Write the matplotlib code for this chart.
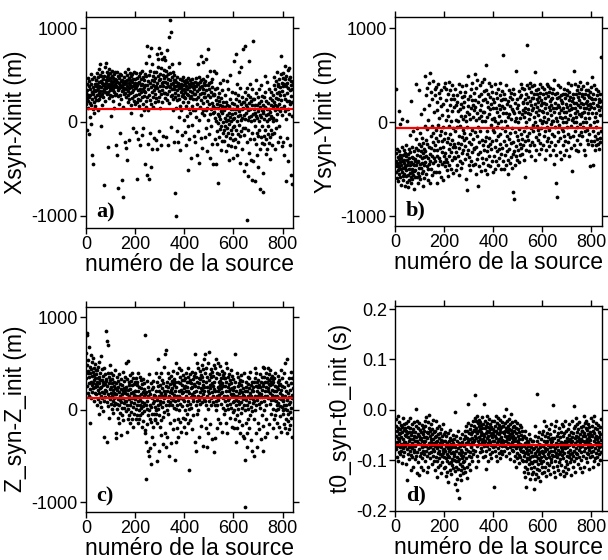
import matplotlib
matplotlib.use("Agg")
import matplotlib.pyplot as plt
import numpy as np

plt.rcParams['font.family'] = ['Liberation Sans', 'DejaVu Sans']
plt.rcParams['axes.unicode_minus'] = False

# source numbers 1..840
source_num = np.arange(1, 841)

# Xsyn - Xinit (m), one line per block of 20 sources
dx = [
    312, 187, 405, 256, -87, 341, 223, 468, 145, 290, 378, -132, 264, 431, 198, 52, 355, 287, 512, 176,
    -24, 402, 318, 241, -352, 459, 133, 296, 376, -448, 215, 337, 484, 92, 263, 399, 171, 328, 446, 239,
    386, 452, 291, 517, 343, 408, 234, 475, 362, 129, 421, 308, 563, 386, 247, 498, 335, 612, 274, 439,
    -46, 367, 488, 302, 413, 176, 537, 389, 266, 454, 327, -668, 401, 355, 492, 228, 374, 586, 318, 445,
    412, 627, 358, 475, 294, 536, 387, -268, 443, 321, 498, 376, 254, 562, 405, 337, 471, 289, 518, 364,
    63, 432, 396, 547, 273, 418, 491, 342, 385, 227, 463, 506, 318, 441, 376, 152, 529, 403, 287, 456,
    -248, 386, 452, 301, 527, 368, -352, 423, 274, 489, -705, 341, 412, 196, 468, 357, 283, 514, 392, -118,
    436, 248, 375, 502, 329, -615, 451, 387, 163, 415, 344, -796, 478, 293, 402, 366, -212, 527, 438, 311,
    -276, 354, 418, 262, 497, -402, 381, 449, 215, 335, 563, 287, 410, -187, 472, 358, 246, 391, 524, 305,
    443, 178, 367, 486, 92, 318, 429, 256, 508, 384, -64, 342, 461, 226, 397, 531, 274, 358, 415, 187,
    456, 286, -105, 372, 524, 213, 395, 468, -612, 337, 248, 412, -183, 491, 302, 165, 428, -247, 354, 517,
    236, 389, 72, 455, 318, -134, 406, 547, 269, 352, 194, 481, -62, 327, 443, 281, 375, 128, 512, 396,
    -452, 318, 224, 632, 486, 157, -563, 392, 804, 265, 441, -238, 352, 128, 697, 503, -608, 287, 414, -122,
    542, 236, 786, 368, -476, 195, 452, 618, 314, -286, 487, 163, 392, 268, -168, 531, 345, 431, 209, 376,
    294, 468, -194, 387, 532, 256, 724, 413, -287, 361, 589, 228, 486, 672, 335, -96, 447, 791, 268, 512,
    382, 154, 453, 736, 296, -246, 574, 418, 337, 672, 209, 495, 380, -152, 426, 548, 313, 465, 687, 254,
    428, 312, 657, 486, -163, 374, 543, 238, 764, 411, 297, 512, -242, 386, 456, 902, 327, 584, 198, 1085,
    442, 369, 521, 274, -58, 958, 403, 612, 285, 478, 356, 132, 531, 417, 248, 386, 498, -208, 352, 445,
    312, 446, -752, 268, 385, -1000, 154, 427, -96, 343, 236, 478, 397, -208, 286, 412, 58, 359, 623, 241,
    389, 174, 456, -294, 318, 402, 126, 367, 274, 445, -142, 336, 482, 213, 389, 296, 432, 18, 355, 268,
    318, 412, -104, 257, 386, 174, 447, -248, 302, 421, 65, 355, 286, -42, 468, 213, -512, 374, 142, 409,
    -186, 331, 258, 452, 97, 388, -386, 276, 412, 168, 324, -27, 456, 243, 367, 132, 418, -152, 295, 379,
    352, 126, 428, -214, 297, 463, 58, 382, 245, -352, 416, 187, 334, 612, -96, 405, 263, 478, 18, 347,
    -438, 294, 421, 156, 369, -172, 448, 705, 234, 386, 92, 312, -281, 457, 198, 636, 347, 129, 415, 268,
    312, 78, 436, -158, 264, 398, 127, 672, -62, 345, 218, 486, -307, 154, 392, 26, 781, 283, 417, -124,
    196, 352, 543, 88, -386, 267, 421, 142, -47, 318, 457, 206, -238, 374, 97, 285, -452, 168, 539, 302,
    104, 287, -176, 46, 352, 153, -452, 238, 12, 523, -93, 196, 358, -238, 82, 264, -648, 147, -12, 307,
    -156, 68, 224, 415, -74, 183, 28, -302, 256, 118, -45, 337, 175, -198, 92, 448, 4, 212, -117, 163,
    -86, 124, -203, 47, 283, -38, 156, -312, 8, 214, -147, 76, 432, -64, 178, -246, 23, 352, -118, 95,
    -405, 167, -23, 248, -172, 56, 504, -87, 136, -256, 14, 315, -132, 82, 198, -58, -378, 142, -196, 37,
    654, -42, 187, 38, -176, 312, 94, -264, 726, 143, -87, 246, 12, -352, 408, 168, -128, 62, 287, -214,
    536, 112, -36, 224, -432, 75, 358, -152, 192, 18, 589, -96, 263, 137, -287, 46, 216, -62, 782, 152,
    -526, 214, 76, -142, 318, 32, 812, -68, 183, -452, 246, 94, -1048, 158, -214, 362, 18, -572, 287, 127,
    -86, 653, 198, 48, -328, 263, 136, -176, 402, 67, -403, 228, 14, 352, -118, 176, -622, 86, 858, 243,
    -412, 138, 26, -186, 247, 92, -628, 186, -47, 312, -238, 64, 452, -112, 178, -356, 38, 267, -148, 118,
    -478, 203, -82, 346, 12, -286, 158, 74, -712, 226, -164, 54, 392, -228, 132, -38, 276, -548, 96, 184,
    -746, 118, -152, 264, 36, -236, 487, 162, -84, 318, -342, 72, 224, -178, 136, 12, -284, 426, 87, -126,
    198, -48, 352, -226, 142, 28, -396, 256, 104, -162, 62, 314, -84, 186, -246, 42, 238, -128, 168, 8,
    286, 42, 398, -112, 214, 476, 128, -286, 352, 186, 26, 438, 254, -64, 312, 168, 527, 88, 386, -208,
    242, 406, 134, 318, -38, 462, 196, 285, -162, 374, 112, 506, 236, 704, 152, 412, -252, 328, 74, 468,
    386, -212, 524, 168, 402, 286, -356, 458, 112, 592, 246, -628, 378, 36, 486, 218, -174, 413, 306, 548,
    134, 362, -412, 456, 228, 572, 86, 342, -246, 481, 192, 396, -568, 274, 438, 64, 356, -662, 212, 428,
]

# Ysyn - Yinit (m)
dy = [
    -412, -536, -328, 352, -467, -598, -285, -441, -513, -372, -624, -456, 118, -395, -548, -312, -476, -587, -24, -428,
    -352, -503, -668, -386, -462, -264, -527, -415, 36, -574, -348, -486, -612, -437, -293, -551, -403, -682, -468, -327,
    -486, -362, -578, -243, -512, -405, 12, -637, -458, -336, -564, -692, -421, -287, -503, -612, -378, -546, -139, -455,
    -318, -585, -427, 228, -649, -496, -372, -531, -264, -608, -443, -96, -562, -384, -517, -716, -462, -305, -589, -417,
    -396, -512, -278, 402, -456, -183, -587, -352, -427, -63, -538, -296, -652, -414, 336, -487, -238, -571, -365, -118,
    -448, -604, -313, 87, -492, -257, -386, -546, -172, -432, -684, -327, -519, -218, 143, -462, -376, -593, -284, -45,
    -312, 487, -426, -187, -548, 283, -356, -78, -472, 362, -234, -612, -386, 24, -503, 412, -268, -445, 186, -338,
    -647, 523, -412, -152, 318, -496, -273, -38, -562, 246, -364, -208, 438, -431, -116, -528, 102, -296, -384, 352,
    -243, 286, -412, -86, 372, -528, -168, 124, -356, -648, 218, -294, -34, 406, -462, -206, 312, -378, 46, -534,
    -142, 258, -418, -272, 168, -586, -96, 342, -324, -198, 78, -446, -262, 196, -612, -48, 376, -358, -176, -428,
    -326, 412, -468, -118, 236, -392, 18, 354, -512, -214, 126, -428, 296, -168, -574, 62, -286, 428, -356, -42,
    -458, 178, -232, 336, -124, -496, 248, -318, 8, -408, 392, -186, 114, -542, -268, 284, -62, -374, 162, -236,
    248, -386, -96, 352, -264, 24, -512, 176, -318, 286, -48, -462, 214, -218, 116, -356, 8, 402, -148, -562,
    -274, 138, -412, 322, -38, -236, 192, -488, 68, -328, 262, -162, 386, -438, -82, 158, -296, 34, -186, 276,
    -112, 214, -398, 62, -256, 318, -604, 14, -168, 396, -342, 112, -724, -58, 246, -296, 168, 486, -452, -214,
    88, -372, 282, -128, -506, 36, 352, -238, 148, -416, -86, 234, -318, 412, -178, 54, -462, 186, -274, 126,
    312, -286, 512, -104, 164, -448, 238, -262, 18, -556, 362, -146, 96, -398, 452, -58, -676, 208, -342, 48,
    -212, 276, -468, 132, -92, 398, -318, 186, -524, 62, 294, -186, 426, -382, 14, 234, -248, 108, -436, 326,
    -296, 112, 458, -204, -512, 246, 6, -388, 604, -158, 336, -312, 58, -548, 212, -96, -452, 158, -256, 302,
    -174, 418, -362, 82, -238, 268, -472, 138, -32, 382, -286, 196, -412, 28, 324, -198, 146, -532, 248, -84,
    -104, 212, -356, 46, -262, 402, -498, 8, 308, -196, 152, -412, 256, -52, -308, 104, -148, 352, -452, -12,
    186, -286, 68, -384, 292, -126, 418, -236, 136, -502, 16, 236, -342, 172, -68, 328, -272, 96, -418, 248,
    718, -206, 146, -504, 302, -98, 12, -354, 248, -242, 94, -456, 398, -46, -312, 196, -148, -406, 58, -548,
    226, -176, 336, -286, 84, -432, 264, -116, 172, -372, 28, 312, -228, 138, -486, 242, -64, 356, -336, 118,
    -748, -212, 96, -818, 296, -306, 8, -452, 204, -104, 538, -254, 46, -362, 246, -146, -408, 152, -2, -298,
    176, -196, 328, -74, -426, 112, 262, -236, 38, -352, 286, -128, 402, -272, 84, -176, 358, -336, 132, 216,
    198, -246, 352, -96, 54, -402, 246, 104, -204, -582, 152, -52, 302, -298, 4, 396, -148, 204, 818, 96,
    268, -186, 142, -312, 364, 36, -118, 228, -246, 412, 86, -362, 186, 316, -64, 254, -214, 128, 384, -28,
    252, -98, 148, 398, -246, 56, 302, -404, 196, 4, 528, -154, 104, 346, -296, 248, -46, 158, 296, -196,
    356, -82, 216, 72, -336, 268, 132, -124, 402, 24, -218, 312, 178, -62, 236, -286, 118, 376, -12, 206,
    104, -248, 296, 6, 204, -146, 352, 54, -398, 252, 148, -96, 306, -302, 2, 196, -52, 402, 98, -204,
    272, -168, 386, 36, -258, 162, 318, -84, 226, -352, 124, 362, -18, 248, -212, 176, 78, -126, 314, 14,
    252, -296, 146, 8, 348, -152, 446, 104, -448, 198, -48, 302, -248, -648, 154, 46, -352, 256, -802, 6,
    312, -106, 186, 398, -204, 92, 266, -36, 162, -318, 376, 58, -172, 238, 124, -396, 286, -78, 208, 42,
    198, -98, 302, 4, -246, 148, 352, -152, 104, -348, 252, 54, -198, 298, 2, -296, 196, 102, -48, 346,
    164, 286, -126, 412, 36, -212, 238, 128, -356, 316, 72, -164, 264, 186, -42, 398, -272, 142, 226, 18,
    152, -518, 298, 48, -146, 252, 548, 4, -248, 198, 98, 402, -96, 148, -302, 296, 52, 2, 198, -196,
    338, 118, -58, 262, 176, -312, 384, 86, -138, 236, 312, -24, 162, 428, -236, 204, 64, 356, -108, 272,
    98, 302, -146, 196, 2, 378, -52, 148, -296, 252, 102, -98, 298, 48, -352, 198, 148, 4, 346, -196,
    228, 412, -84, 176, 286, -236, 92, 338, 134, -128, 262, 42, -468, 196, 318, -32, 158, 376, -206, 254,
    248, -246, 478, 98, -96, 202, -452, 298, 4, -198, 148, 398, -148, 52, -298, 248, 98, -246, 352, -52,
    186, -184, 286, 12, -238, 168, 326, -112, 218, -286, 132, 246, -168, 78, 302, -212, 156, -96, 692, 224,
]

# Z_syn - Z_init (m)
dz = [
    612, 348, 812, 254, 486, 824, 392, 176, 538, 418, 286, 672, 152, 356, -146, 462, 228, 398, 586, 304,
    132, 442, 268, 516, 362, 194, 408, 288, 562, 236, 376, 98, 452, 318, 248, 496, 182, 346, 426, 274,
    386, 172, 298, 46, 428, 256, 338, 118, 462, 208, 284, -42, 356, 176, 512, 236, 82, 318, 402, 148,
    246, 576, 28, 324, 196, 438, 126, 362, 262, -12, 304, 186, 452, 96, -298, 278, 216, 384, 142, 336,
    852, 198, 312, 746, 84, 256, -348, 702, 168, 402, 36, 286, 138, 352, -86, 226, 478, 112, 318, 62,
    248, 176, 392, 8, 284, 148, 336, 92, 214, -38, 372, 186, 124, 296, 46, 258, 168, 426, 74, 232,
    -248, 168, 286, -302, 62, 218, 358, 12, 246, -92, 118, 312, -148, 194, 48, 386, 152, -38, 274, 106,
    -274, 228, 84, 336, 168, -58, 262, 22, 198, 412, 128, -112, 306, 72, 238, 16, 176, 358, 96, 214,
    94, 508, -12, 248, 168, -236, 336, 46, -104, 212, 522, 8, 296, 118, -62, 262, 146, 374, 52, -148,
    226, 84, 314, -28, 186, 402, 126, -96, 268, 34, 192, 348, -182, 156, 68, 276, -44, 206, 118, 302,
    198, 4, 348, -104, 146, 262, 48, -56, 302, 96, 396, -148, 204, -8, 246, -102, 152, 356, 52, 108,
    -62, 236, 18, 318, 168, -186, 84, 274, -34, 192, 42, 328, -124, 146, 226, -18, 288, 68, -214, 172,
    -256, 812, 48, -348, 196, -752, 4, 306, -152, 98, -446, 248, -54, 146, 382, -504, 2, 204, -96, 56,
    -412, 168, -128, 286, 34, -582, 226, -42, 122, -298, 314, 78, -186, 248, -48, 162, -368, 92, -112, 28,
    -98, 152, 402, -46, 198, 2, -552, 104, 302, -146, 48, 252, 548, 6, -448, 146, 352, -52, 204, 98,
    -186, 268, 62, 394, -112, 176, -268, 232, 26, 318, 148, -78, 286, 84, -372, 206, 132, 458, -28, 172,
    602, 148, -248, 252, 48, 648, -402, 298, 2, 202, -298, 98, 402, -48, 248, -502, 152, 348, 52, -146,
    276, 188, 86, 362, 214, -356, 128, 312, 46, 236, 176, -208, 418, 104, 286, 18, 334, 162, -112, 262,
    198, -548, 302, 98, -352, 502, 4, 248, -198, 152, 398, 52, -96, 302, 102, -298, 202, 452, 2, 148,
    286, 62, 356, -136, 218, 128, 428, -242, 176, 326, 38, 262, -84, 188, 374, 112, -186, 238, 92, 316,
    252, 2, 348, -96, 148, 402, -252, 198, 52, 298, -46, 248, 98, 452, -148, 202, 352, 4, 298, -648,
    176, 326, 64, 386, -112, 236, 142, 288, 18, 412, -204, 168, 246, 92, 336, 126, -58, 278, 196, 362,
    148, 402, -348, 252, 598, 48, 352, -448, 202, 502, 98, -48, 302, 152, 452, 2, 248, -298, 348, 102,
    286, 196, 414, 62, 328, 236, -176, 376, 142, 478, 218, 84, 356, 262, -392, 174, 436, 306, 118, 244,
    548, 198, -98, 402, 98, 602, -202, 298, 48, 448, -398, 248, 148, 352, -248, 4, 502, 202, 624, 98,
    316, 176, 386, 232, -156, 272, 438, 124, 352, 56, 286, 196, -312, 412, 148, 256, 364, 86, 228, 482,
    -452, 302, 48, 452, -302, 198, 98, 552, 2, 348, -198, 148, 402, 52, 248, -96, 502, 198, 102, 298,
    226, 386, 156, 312, -142, 268, 476, 184, 346, 62, 236, 418, -236, 192, 288, 124, 372, 16, 254, 338,
    148, 402, -48, 252, 98, 348, 2, 502, 198, -148, 302, 52, 452, 148, -252, 248, 102, 352, 4, 198,
    276, 126, 384, 62, -92, 226, 318, 168, 426, 18, 292, -186, 236, 146, 362, 84, 212, -24, 334, 172,
    98, -198, 248, 2, 598, 152, -98, 302, 48, -348, 198, 102, 398, -52, 148, -202, 252, 4, 352, 98,
    176, -126, 286, 62, 212, -246, 326, 136, -36, 262, 84, 372, -168, 196, 24, 308, 118, -286, 232, 156,
    -302, 148, 52, 398, -548, 198, 2, -1048, 248, -148, 102, 298, -402, 48, 198, -252, 152, 352, -98, 4,
    276, 86, -196, 232, 348, 126, -62, 186, 412, 34, -326, 264, 152, -18, 304, 212, -442, 118, 246, 72,
    198, -498, 98, 302, -98, 448, 2, 148, 348, -248, 252, 52, 402, -398, 198, 102, 298, -148, 152, 248,
    326, 64, 186, -212, 272, 136, 384, 18, 242, -318, 168, 296, 82, 354, -56, 216, 138, 462, -176, 284,
    -448, 252, 98, 352, 2, 452, 198, -298, 148, 302, 52, 398, -98, 248, 348, 148, -252, 302, 198, 452,
    236, 124, 386, 276, -156, 318, 184, 426, 66, 262, 344, 108, -42, 296, 212, 368, 154, 282, -198, 336,
    302, 4, 198, -98, 348, 102, 252, -52, 148, 402, 2, 198, -298, 98, 52, 248, -148, 152, 4, 298,
    226, 76, 368, -186, 264, 132, 316, 38, 186, -72, 282, 118, 432, -238, 212, 162, 344, 26, 256, 104,
    -48, 98, 2, 248, -152, 52, 398, -198, 148, 502, 4, -98, 198, 48, 298, 552, -252, 102, 2, -48,
    176, -124, 262, 64, -212, 138, 346, -26, 212, 86, -168, 286, 18, 412, -86, 162, 338, -292, 124, 236,
]

# t0_syn - t0_init (s)
dt0 = [
    -0.052, -0.031, -0.078, -0.018, -0.064, -0.093, -0.042, -0.071, -0.012, -0.056, -0.102, -0.036, -0.061, -0.047, -0.083, -0.024, -0.058, -0.074, -0.038, -0.088,
    -0.046, -0.067, -0.029, -0.081, -0.053, -0.106, -0.034, -0.069, -0.043, -0.015, -0.076, -0.057, -0.092, -0.039, -0.063, -0.027, -0.084, -0.049, -0.072, -0.035,
    -0.063, -0.041, -0.108, -0.052, -0.026, -0.077, -0.138, -0.046, -0.068, -0.033, -0.087, -0.054, -0.021, -0.073, -0.098, -0.044, -0.062, -0.016, -0.082, -0.057,
    -0.036, -0.071, -0.119, -0.049, -0.089, -0.028, -0.066, -0.094, -0.043, -0.075, -0.058, -0.112, -0.038, -0.069, -0.084, -0.051, -0.024, -0.079, -0.061, -0.097,
    -0.043, -0.072, 0.001, -0.054, -0.091, -0.032, -0.124, -0.062, -0.021, -0.083, -0.047, -0.103, -0.036, -0.066, -0.128, -0.052, -0.077, -0.026, -0.058, -0.092,
    -0.068, -0.039, -0.086, -0.055, -0.113, -0.044, -0.074, -0.029, -0.096, -0.061, -0.048, -0.081, -0.035, -0.118, -0.064, -0.053, -0.088, -0.041, -0.071, -0.022,
    -0.062, -0.031, -0.102, -0.053, -0.082, -0.014, -0.071, -0.122, -0.043, -0.092, -0.056, -0.024, -0.076, -0.046, -0.112, -0.036, -0.066, -0.009, -0.086, -0.051,
    -0.073, -0.041, -0.095, -0.058, -0.027, -0.083, -0.063, -0.107, -0.048, -0.069, -0.038, -0.091, -0.057, -0.078, -0.019, -0.065, -0.101, -0.044, -0.081, -0.054,
    -0.071, -0.042, -0.118, -0.063, -0.022, -0.093, -0.052, -0.132, -0.076, -0.036, -0.102, -0.061, -0.086, -0.047, -0.112, -0.072, -0.031, -0.096, -0.056, -0.082,
    -0.066, -0.109, -0.045, -0.088, -0.074, -0.038, -0.124, -0.059, -0.091, -0.068, -0.051, -0.104, -0.079, -0.027, -0.085, -0.062, -0.115, -0.048, -0.077, -0.094,
    -0.082, -0.061, -0.112, -0.043, -0.096, -0.072, -0.131, -0.052, -0.087, -0.101, -0.066, -0.122, -0.076, -0.046, -0.091, -0.142, -0.062, -0.106, -0.081, -0.071,
    -0.094, -0.056, -0.118, -0.078, -0.039, -0.103, -0.068, -0.086, -0.127, -0.059, -0.097, -0.074, -0.109, -0.049, -0.084, -0.065, -0.114, -0.088, -0.057, -0.099,
    -0.092, -0.004, -0.121, -0.073, -0.146, -0.082, -0.052, -0.112, -0.102, -0.136, -0.062, -0.093, -0.158, -0.076, -0.116, -0.042, -0.101, -0.174, -0.086, -0.066,
    -0.097, -0.128, -0.071, -0.108, -0.056, -0.089, -0.119, -0.079, -0.139, -0.063, -0.095, -0.111, -0.048, -0.083, -0.124, -0.069, -0.104, -0.091, -0.058, -0.115,
    -0.072, -0.102, -0.041, -0.086, -0.122, -0.051, -0.066, -0.096, -0.032, -0.077, -0.112, -0.056, -0.134, -0.042, -0.081, 0.011, -0.062, -0.026, -0.091, -0.046,
    -0.068, -0.108, -0.037, -0.084, -0.058, -0.119, -0.048, -0.074, -0.029, -0.093, -0.063, -0.044, -0.101, -0.055, -0.079, -0.021, -0.067, -0.088, -0.039, -0.059,
    -0.031, -0.062, -0.016, -0.051, 0.029, -0.082, -0.041, -0.021, -0.112, -0.056, -0.036, -0.071, -0.011, -0.046, -0.091, -0.026, -0.061, -0.042, -0.102, -0.032,
    -0.053, -0.019, -0.068, -0.038, -0.084, -0.024, -0.057, -0.044, -0.076, -0.029, -0.049, -0.063, -0.014, -0.081, -0.035, -0.058, -0.027, -0.094, -0.047, -0.066,
    -0.052, 0.012, -0.072, -0.036, -0.092, -0.021, -0.061, -0.046, -0.116, -0.031, -0.082, -0.012, -0.056, -0.041, -0.071, -0.026, -0.101, -0.051, -0.034, -0.066,
    -0.043, -0.078, -0.018, -0.059, -0.087, -0.038, -0.064, -0.028, -0.049, -0.096, -0.033, -0.069, -0.054, -0.022, -0.083, -0.045, -0.061, -0.037, -0.074, -0.048,
    -0.152, -0.042, -0.062, -0.022, -0.082, -0.052, -0.032, -0.072, -0.012, -0.056, -0.092, -0.041, -0.026, -0.066, -0.046, -0.102, -0.036, -0.061, -0.016, -0.076,
    -0.048, -0.086, -0.029, -0.057, -0.069, -0.038, -0.095, -0.044, -0.019, -0.063, -0.053, -0.081, -0.034, -0.071, -0.024, -0.059, -0.088, -0.043, -0.067, -0.031,
    -0.032, -0.061, -0.046, -0.011, -0.082, -0.052, -0.026, -0.072, -0.041, 0.001, -0.062, -0.036, -0.091, -0.021, -0.056, -0.042, -0.076, -0.031, -0.051, -0.066,
    -0.044, -0.086, -0.017, -0.058, -0.037, -0.073, -0.048, -0.028, -0.097, -0.054, -0.039, -0.068, -0.008, -0.063, -0.046, -0.079, -0.024, -0.057, -0.034, -0.071,
    -0.051, -0.082, -0.031, -0.102, -0.062, -0.042, -0.092, -0.022, -0.072, -0.056, -0.112, -0.036, -0.076, -0.046, -0.096, -0.061, -0.026, -0.086, -0.052, -0.071,
    -0.064, -0.038, -0.089, -0.057, -0.106, -0.044, -0.078, -0.029, -0.067, -0.094, -0.049, -0.081, -0.034, -0.073, -0.058, -0.099, -0.041, -0.069, -0.084, -0.054,
    -0.082, -0.102, -0.052, -0.122, -0.072, -0.092, -0.042, -0.112, -0.066, -0.132, -0.086, -0.056, -0.101, -0.076, -0.152, -0.062, -0.096, -0.081, -0.116, -0.071,
    -0.088, -0.124, -0.064, -0.098, -0.047, -0.108, -0.079, -0.137, -0.069, -0.093, -0.058, -0.114, -0.084, -0.103, -0.074, -0.127, -0.061, -0.091, -0.106, -0.077,
    -0.092, -0.122, -0.061, -0.102, -0.156, -0.076, -0.112, -0.051, -0.136, -0.086, -0.032, -0.101, -0.071, -0.126, -0.091, 0.031, -0.062, -0.116, -0.082, -0.096,
    -0.078, -0.108, -0.054, -0.132, -0.088, -0.067, -0.119, -0.044, -0.099, -0.074, -0.141, -0.084, -0.058, -0.106, -0.093, -0.069, -0.124, -0.081, -0.047, -0.113,
    -0.072, -0.102, -0.041, -0.086, -0.122, -0.062, -0.021, -0.091, -0.076, -0.112, -0.051, -0.082, -0.131, -0.066, -0.031, -0.096, -0.061, -0.106, -0.046, -0.077,
    -0.088, -0.054, -0.118, -0.069, -0.094, -0.037, -0.083, -0.109, -0.058, -0.074, -0.126, -0.048, -0.097, -0.064, -0.081, -0.028, -0.103, -0.071, -0.089, -0.056,
    -0.062, -0.092, 0.009, -0.072, -0.112, -0.042, -0.082, -0.122, -0.056, -0.102, -0.031, -0.076, -0.132, -0.066, -0.091, -0.021, -0.086, -0.052, -0.111, -0.071,
    -0.094, -0.046, -0.079, -0.118, -0.059, -0.088, -0.036, -0.104, -0.068, -0.127, -0.053, -0.083, -0.097, -0.044, -0.074, -0.109, -0.063, -0.027, -0.089, -0.078,
    -0.082, -0.052, -0.121, -0.066, -0.032, -0.096, -0.071, -0.131, -0.046, -0.086, -0.062, -0.112, -0.021, -0.076, -0.102, -0.041, -0.066, -0.124, -0.056, -0.092,
    -0.073, -0.108, -0.038, -0.084, -0.061, -0.117, -0.049, -0.094, -0.069, -0.027, -0.088, -0.058, -0.103, -0.079, -0.044, -0.097, -0.064, -0.128, -0.053, -0.086,
    -0.061, -0.022, -0.092, -0.046, -0.112, -0.072, 0.008, -0.082, -0.036, -0.102, -0.056, -0.122, -0.066, -0.031, -0.086, -0.051, -0.096, -0.016, -0.076, -0.062,
    -0.043, -0.088, -0.027, -0.069, -0.053, -0.107, -0.038, -0.079, -0.058, -0.093, -0.024, -0.074, -0.047, -0.114, -0.064, -0.034, -0.083, -0.057, -0.099, -0.041,
    -0.042, -0.071, -0.122, -0.052, -0.031, -0.092, -0.062, -0.012, -0.082, -0.046, -0.112, -0.066, -0.026, -0.076, -0.051, -0.096, -0.036, -0.061, -0.021, -0.086,
    -0.057, -0.103, -0.039, -0.073, -0.048, -0.088, -0.028, -0.064, -0.117, -0.054, -0.079, -0.034, -0.068, -0.094, -0.044, -0.059, -0.016, -0.083, -0.049, -0.074,
    -0.052, -0.092, -0.031, -0.072, -0.112, -0.041, -0.082, -0.022, -0.062, -0.102, -0.046, -0.012, -0.076, -0.056, -0.096, -0.036, -0.066, -0.086, -0.026, -0.051,
    -0.069, -0.038, -0.094, -0.058, -0.079, -0.029, -0.063, -0.108, -0.044, -0.074, -0.054, -0.088, -0.034, -0.067, -0.099, -0.048, -0.018, -0.083, -0.059, -0.071,
]

# mean offsets (red lines)
means = [138, -60, 122, -0.069]

panel_tags = ["a)", "b)", "c)", "d)"]
ylabels = ["Xsyn-Xinit (m)", "Ysyn-Yinit (m)", "Z_syn-Z_init (m)", "t0_syn-t0_init (s)"]
xlabel = "numéro de la source"
x_ticks = [0, 200, 400, 600, 800]
y_ticks_m = [-1000, 0, 1000]
y_ticks_s = [-0.2, -0.1, 0.0, 0.1, 0.2]


def main():
    fig = plt.figure(figsize=(6.08, 5.6), dpi=100)

    rects = [
        [0.1414, 0.5929, 0.3405, 0.3762],
        [0.6502, 0.5964, 0.3395, 0.3732],
        [0.1414, 0.0864, 0.3405, 0.3660],
        [0.6502, 0.0876, 0.3395, 0.3660],
    ]
    ylims = [(-1128, 1114), (-1106, 1117), (-1100, 1113), (-0.2, 0.206)]
    series = [dx, dy, dz, dt0]

    for i in range(4):
        ax = fig.add_axes(rects[i])
        ax.plot(source_num, series[i], 'o', color='black', ms=2.7, mew=0)
        ax.axhline(means[i], color='red', lw=1.6)

        ax.set_xlim(0, 842)
        ax.set_ylim(*ylims[i])
        ax.set_xticks(x_ticks)
        if i == 3:
            ax.set_yticks(y_ticks_s)
            ax.set_yticklabels(["%.1f" % v for v in y_ticks_s])
        else:
            ax.set_yticks(y_ticks_m)

        ax.tick_params(direction='out', length=4, width=1, labelsize=13,
                       top=True, right=True, pad=2)
        for sp in ax.spines.values():
            sp.set_linewidth(1)

        ax.set_xlabel(xlabel, fontsize=16.5, labelpad=0)
        ax.set_ylabel(ylabels[i], fontsize=16.5, labelpad=3)

        ax.text(0.05, 0.05, panel_tags[i], transform=ax.transAxes,
                fontsize=16, fontweight='bold', family='Liberation Serif')

    fig.savefig("out.png", dpi=100)


if __name__ == "__main__":
    main()
